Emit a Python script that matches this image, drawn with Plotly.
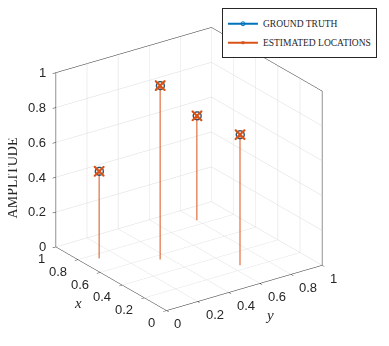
import plotly.graph_objects as go

# stem positions (x, y) and amplitudes
x_pos = [0.75, 0.55, 0.85, 0.25]
y_pos = [0.10, 0.35, 0.80, 0.65]
amp_true = [0.50, 1.00, 0.60, 0.75]
amp_est = [0.50, 1.00, 0.60, 0.75]
ticks = [0, 0.2, 0.4, 0.6, 0.8, 1]

BLUE = "#0072BD"
ORANGE = "#D95319"
INK = "#262626"
TICKFONT = dict(family="Liberation Sans, Arial", size=13, color=INK)
TITLEFONT = dict(family="Liberation Serif", size=15, color=INK)


def stems(xs, ys, zs):
    sx, sy, sz = [], [], []
    for a, b, c in zip(xs, ys, zs):
        sx += [a, a, None]
        sy += [b, b, None]
        sz += [0, c, None]
    return sx, sy, sz


fig = go.Figure()

sx, sy, sz = stems(x_pos, y_pos, amp_true)
fig.add_trace(go.Scatter3d(x=sx, y=sy, z=sz, mode="lines", line=dict(color=BLUE, width=2),
                           showlegend=False, hoverinfo="skip"))
fig.add_trace(go.Scatter3d(x=x_pos, y=y_pos, z=amp_true, mode="markers",
                           marker=dict(symbol="circle-open", size=5, color=BLUE, line=dict(width=2)),
                           showlegend=False))
sx, sy, sz = stems(x_pos, y_pos, amp_est)
fig.add_trace(go.Scatter3d(x=sx, y=sy, z=sz, mode="lines", line=dict(color=ORANGE, width=2),
                           showlegend=False, hoverinfo="skip"))
fig.add_trace(go.Scatter3d(x=x_pos, y=y_pos, z=amp_est, mode="markers",
                           marker=dict(symbol="x", size=2.5, color=ORANGE),
                           showlegend=False))

# legend entries
fig.add_trace(go.Scatter3d(x=[None], y=[None], z=[None], mode="lines+markers", name="GROUND TRUTH",
                           line=dict(color=BLUE, width=2),
                           marker=dict(symbol="circle-open", size=4, color=BLUE)))
fig.add_trace(go.Scatter3d(x=[None], y=[None], z=[None], mode="lines+markers", name="ESTIMATED LOCATIONS",
                           line=dict(color=ORANGE, width=2),
                           marker=dict(symbol="x", size=3, color=ORANGE)))

axis_common = dict(
    tickvals=ticks, showticklabels=False,
    showgrid=True, gridcolor="#dcdcdc", gridwidth=1,
    showline=True, linecolor=INK, linewidth=1, mirror=True,
    zeroline=False, showbackground=False,
    ticks="outside", ticklen=4, tickcolor=INK,
    showspikes=False, title=dict(text=""),
)

# tick labels placed MATLAB-style at the axis tick positions
scene_ann = []
for t in ticks:
    lab = f"{t:g}"
    scene_ann.append(dict(x=t, y=0, z=0, text=lab, showarrow=False, font=TICKFONT,
                          xanchor="right", yanchor="middle", xshift=-9, yshift=-12))
    scene_ann.append(dict(x=0, y=t, z=0, text=lab, showarrow=False, font=TICKFONT,
                          xanchor="left", yanchor="middle", xshift=6, yshift=-13))
    scene_ann.append(dict(x=1, y=0, z=t, text=lab, showarrow=False, font=TICKFONT,
                          xanchor="right", yanchor="middle", xshift=-8, yshift=0))
scene_ann.append(dict(x=0.5, y=0, z=0, text="<i>x</i>", showarrow=False, font=TITLEFONT,
                      xshift=-33, yshift=-24))
scene_ann.append(dict(x=0, y=0.5, z=0, text="<i>y</i>", showarrow=False, font=TITLEFONT,
                      xshift=25, yshift=-27))

k = 1.24
fig.update_layout(
    width=389, height=346,
    margin=dict(l=0, r=0, t=0, b=0),
    paper_bgcolor="white",
    scene=dict(
        domain=dict(x=[0, 0.93], y=[0.092, 1]),
        xaxis=dict(axis_common, range=[1, 0]),
        yaxis=dict(axis_common, range=[0, 1]),
        zaxis=dict(axis_common, range=[0, 1]),
        aspectmode="manual", aspectratio=dict(x=k, y=k, z=k),
        camera=dict(eye=dict(x=1.49, y=-1.06, z=0.82), up=dict(x=0, y=0, z=1),
                    projection=dict(type="orthographic")),
        annotations=scene_ann,
    ),
    legend=dict(x=0.55, y=1.02, xanchor="left", yanchor="top",
                bgcolor="white", bordercolor=INK, borderwidth=1,
                font=dict(family="Liberation Serif", size=9.5, color=INK),
                itemwidth=30, tracegroupgap=0),
    annotations=[dict(text="AMPLITUDE", x=0.012, y=0.52, xref="paper", yref="paper",
                      xanchor="center", yanchor="middle",
                      textangle=-90, showarrow=False,
                      font=dict(family="Liberation Serif", size=14, color=INK))],
)

fig.write_html("out.html")
